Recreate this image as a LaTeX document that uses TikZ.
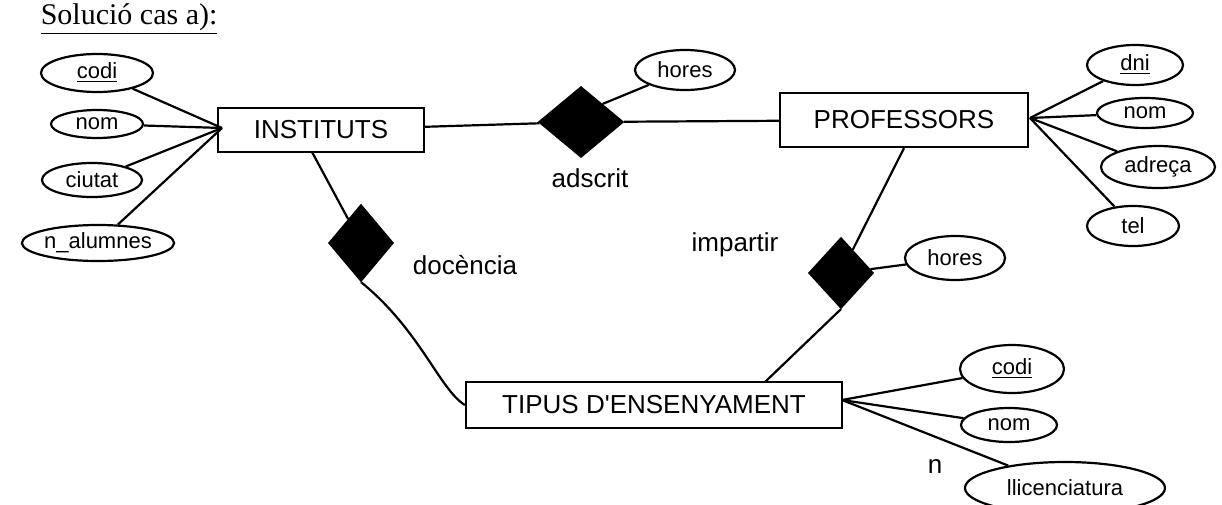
\documentclass[tikz,border=0pt]{standalone}
\usepackage{fontspec}
\setmainfont{Liberation Serif}
\newfontfamily\hand{Liberation Sans}
\usetikzlibrary{shapes.geometric}
\begin{document}
\begin{tikzpicture}[x=0.5pt,y=-0.5pt,line width=1.1pt,
  ent/.style={draw,rectangle,inner sep=0pt,font=\hand\fontsize{13}{13}\selectfont},
  rel/.style={draw,fill=black,diamond,inner sep=0pt},
  att/.style={draw,ellipse,inner sep=0pt,font=\hand\fontsize{11}{11}\selectfont},
  lbl/.style={font=\hand\fontsize{13}{13}\selectfont}]
\useasboundingbox (0,0) rectangle (1222,504);
\node[anchor=base west,font=\fontsize{15}{15}\selectfont] (title) at (33,24) {\underline{Solució cas a):}};
% entities
\node[ent,minimum width=103pt,minimum height=22pt] (inst) at (321,130) {INSTITUTS};
\node[ent,minimum width=124pt,minimum height=27pt] (prof) at (904,120) {PROFESSORS};
\node[ent,minimum width=188pt,minimum height=23pt] (tip) at (654,405) {TIPUS D'ENSENYAMENT};
% relationships
\node[rel,minimum width=42pt,minimum height=35pt] (ads) at (581,122) {};
\node[rel,minimum width=32pt,minimum height=38pt] (doc) at (361,243) {};
\node[rel,minimum width=32pt,minimum height=35pt] (imp) at (841,273) {};
\node[lbl] (adsl) at (590,178) {adscrit};
\node[lbl] (docl) at (465,265) {docència};
\node[lbl] (impl) at (735,245) {impartir};
% attributes
\node[att,minimum width=50pt,minimum height=20pt] (h1) at (685,70) {hores};
\node[att,minimum width=50pt,minimum height=22pt] (h2) at (955,258) {hores};
\node[att,minimum width=56pt,minimum height=19pt] (icodi) at (97,73) {\underline{codi}};
\node[att,minimum width=46pt,minimum height=14pt] (inom) at (97,124) {nom};
\node[att,minimum width=50pt,minimum height=17pt] (iciu) at (92,180) {ciutat};
\node[att,minimum width=59pt,minimum height=18pt] (ialu) at (98,243) {n\_alumnes};
\node[att,minimum width=48pt,minimum height=20pt] (pdni) at (1135,65) {\underline{dni}};
\node[att,minimum width=48pt,minimum height=15pt] (pnom) at (1145,113) {nom};
\node[att,minimum width=57pt,minimum height=21pt] (padr) at (1158,167) {adreça};
\node[att,minimum width=46pt,minimum height=20pt] (ptel) at (1133,226) {tel};
\node[att,minimum width=52pt,minimum height=24pt] (tcodi) at (1012,369) {\underline{codi}};
\node[att,minimum width=48pt,minimum height=17pt] (tnom) at (1009,425) {nom};
\node[att,minimum width=100pt,minimum height=26pt] (tlli) at (1065,488) {llicenciatura};
\node[lbl] (nl) at (935,466) {n};
\coordinate (ic) at (222,128);
\coordinate (pc) at (1030,118);
\coordinate (tc) at (842,400);
\coordinate (is) at (312,152);
\coordinate (tn) at (765,382);
% connectors
\draw (inst) -- (ads) -- (prof);
\draw (ads.north east) -- (h1);
\draw (is) -- (doc);
\draw (doc.south) .. controls (420,330) and (440,390) .. (tip.west);
\draw (prof.south) -- (imp);
\draw (imp.south) -- (tn);
\draw (imp) -- (h2);
\foreach \a in {icodi,inom,iciu,ialu} \draw (ic) -- (\a);
\foreach \a in {pdni,pnom,padr,ptel} \draw (pc) -- (\a);
\foreach \a in {tcodi,tnom,tlli} \draw (tc) -- (\a);
\end{tikzpicture}
\end{document}
